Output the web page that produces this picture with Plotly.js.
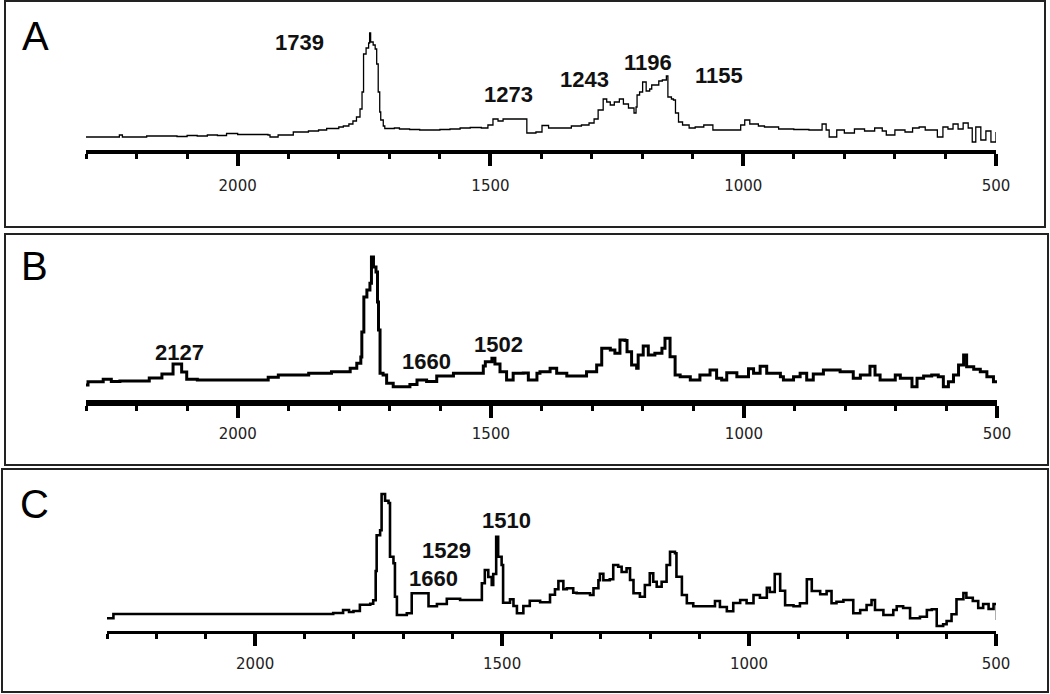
<!DOCTYPE html>
<html><head><meta charset="utf-8">
<script src="https://cdn.plot.ly/plotly-3.0.1.min.js"></script>
<style>html,body{margin:0;padding:0;background:#fff}#chart{width:1050px;height:694px}</style>
</head><body><div id="chart"></div>
<script>
// Wavenumber (cm-1) and relative intensity (arbitrary units)
const wnA = [2300,2240,2234,2228,2180,2150,2120,2100,2080,2060,2040,2022,2000,1960,1940,1936,1920,1890,1860,1840,1824,1800,1791,1780,1772,1765,1758,1754,1751,1746,1741,1739,1737,1732,1728,1725,1722,1719,1717,1712,1709,1690,1680,1660,1640,1600,1580,1560,1540,1518,1505,1495,1485,1475,1430,1428,1410,1398,1385,1360,1340,1320,1305,1295,1287,1277,1270,1263,1255,1245,1237,1227,1216,1212,1210,1205,1199,1195,1192,1185,1181,1167,1160,1152,1149,1142,1138,1134,1128,1120,1107,1095,1078,1060,1040,1014,1005,997,987,970,958,930,900,870,850,844,836,830,815,800,780,760,740,725,717,700,680,665,652,640,625,616,605,595,585,575,565,555,547,540,530,520,510,500];
const intA = [15,15,17,15,16,16,15.5,16.5,16,17,16.5,18.5,17.5,17.5,17,15,17,20,21,22,23.5,25,26,28,31,35,43,60,98,104,109,119,110,107,103,88,60,40,32,26,23.5,24,23,22.5,22,22.5,23,24,24.5,24,27,33,31,33,33,19,20,26.5,24,24,26,27,29,33,42,53,50,47,50,53,48,44,39,45,57,60,70,70,61,63,67,71,72,76,55,53,52,39,30,27,24,25,27,22,22,22,27,32,28,26,25,23,22.5,22,22,28,22,15,22,19,23,21,24,21,17,22,20,24,25,22,22,15,25,23,28,23,29,24,10,25,12,21,10,20];

const wnB = [2300,2296,2270,2266,2253,2250,2233,2177,2175,2154,2150,2134,2128,2118,2111,2101,2080,1946,1940,1923,1920,1864,1860,1818,1815,1785,1778,1765,1757,1755,1751,1745,1739,1736,1732,1727,1724,1722,1719,1713,1706,1693,1673,1660,1646,1627,1607,1574,1521,1515,1511,1498,1492,1482,1469,1456,1436,1426,1409,1403,1383,1370,1350,1324,1311,1291,1281,1264,1255,1245,1235,1231,1222,1212,1209,1199,1189,1176,1162,1156,1146,1136,1126,1106,1087,1067,1054,1044,1034,1014,991,981,968,955,928,922,902,889,876,863,843,810,784,770,751,741,731,711,701,691,668,658,645,629,616,606,596,586,576,566,560,546,533,520,507,497];
const intB = [17,20.3,20.3,22.7,22.7,20.5,21,21,24,24,28,28,38,38,30,22.7,22,22,24.7,24.7,27,27,28.7,28.7,30.3,30.3,33.7,38.7,45,70,105,112,118.7,145,135,130,100,72,28.7,27,18.7,15.3,15.3,17.5,22,20.5,26,28.7,28.7,36,40.3,43.7,38,30.3,22,28.7,29,22,28.7,30.3,33.7,28.7,26,26,30.3,37,53.7,52,48.7,62,61.5,50.3,37,33.7,47,56,47,48.7,53.7,63.7,45.3,27,25.3,22,27,32,23.7,22,29.3,25.3,33.3,28.7,35.7,28.7,25.3,22,25.3,28.7,22,28,32,30.3,23.7,27,35.7,27,22,22,27,23.7,15.3,23.7,26,27,25.3,15.3,20.3,27,37,47,35.3,32.7,30.3,25.3,20.3,18.7];

const wnC = [2300,2287,1852,1842,1822,1810,1801,1788,1767,1761,1756,1754,1747,1744,1737,1730,1727,1720,1717,1713,1693,1683,1653,1649,1632,1612,1585,1548,1541,1535,1528,1521,1518,1512,1508,1501,1498,1484,1477,1470,1460,1457,1444,1423,1403,1393,1386,1376,1369,1356,1349,1322,1315,1305,1302,1295,1282,1275,1265,1258,1248,1241,1234,1221,1211,1201,1194,1187,1177,1167,1160,1150,1147,1136,1126,1113,1086,1069,1059,1045,1032,1018,1005,991,978,964,958,948,937,927,910,897,883,873,856,843,833,823,809,789,775,762,752,745,728,708,701,688,674,654,640,630,620,617,607,600,590,580,566,560,547,536,526,515,505,498];
const intC = [12.7,17,17,18,21,19,20,26.3,27.3,30.7,60,95.7,100.7,137,130.3,128,74.3,67.7,34.3,16,17.7,37.7,37.7,24.7,27,32.3,31,31,47.7,61,54,46,57,94.3,74.3,66,28.3,31.7,25,17.7,17.7,25,30.3,28.7,36.3,41.7,50,41.7,42.7,38.3,37.7,36,42.7,50.7,57.3,50.7,51.7,66,64.3,59,62.7,51,37.7,34.3,46,57.7,49.3,44.3,49.3,66,79.3,77.7,54.3,36,27.7,24.7,24.7,30,24,19.7,28,31,27.7,36,33.3,43.3,39,57,40.3,25.7,24.7,27.7,51.7,40,36.7,40,27.7,29.3,31,17.7,21,26,31,21,16,21,24.7,23,12.7,14.3,21,21.7,5,5,6.7,10,16.7,31.7,38,33.3,30,23,27,22,27,11];

const panelLetters = ['A','B','C'];
const peakLabelsA = ['1739','1273','1243','1196','1155'];
const peakLabelsB = ['2127','1660','1502'];
const peakLabelsC = ['1660','1529','1510'];

const W = 1050, H = 694;
const px = x => x / W;
const py = y => 1 - y / H;

function xax(x0, x1, lw, anchor, standoff) {
  return {
    domain: [px(x0), px(x1)], range: [2300, 500], anchor: anchor,
    showline: true, linecolor: '#000', linewidth: lw,
    ticks: 'outside', tick0: 500, dtick: 500, ticklen: 12, tickwidth: 4, tickcolor: '#000',
    minor: {ticks: 'outside', tick0: 500, dtick: 100, ticklen: 5, tickwidth: 3, tickcolor: '#000', showgrid: false},
    showgrid: false, zeroline: false,
    tickfont: {family: 'DejaVu Sans', size: 15, color: '#222'},
    ticklabelstandoff: standoff, fixedrange: true
  };
}
function yax(b, t, r0, r1) {
  return {domain: [py(b), py(t)], range: [r0, r1], visible: false, fixedrange: true};
}

const traces = [
  {x: wnA, y: intA, xaxis: 'x', yaxis: 'y', type: 'scatter', mode: 'lines', line: {color: '#000', width: 1.3, shape: 'hv'}},
  {x: wnB, y: intB, xaxis: 'x2', yaxis: 'y2', type: 'scatter', mode: 'lines', line: {color: '#000', width: 3, shape: 'hv'}},
  {x: wnC, y: intC, xaxis: 'x3', yaxis: 'y3', type: 'scatter', mode: 'lines', line: {color: '#000', width: 2.6, shape: 'hv'}}
];

const boxes = [[5,1045,1,227],[5,1048,234,465],[2,1048,469,692]].map(b => ({
  type: 'rect', xref: 'paper', yref: 'paper', x0: px(b[0]), x1: px(b[1]), y0: py(b[3]), y1: py(b[2]),
  line: {color: '#222', width: 2}, fillcolor: 'rgba(0,0,0,0)'
}));

const letterPos = [[20,36],[19,266],[18,504]];
const annotations = [];
panelLetters.forEach((t, i) => annotations.push({
  text: t, xref: 'paper', yref: 'paper', x: px(letterPos[i][0]), y: py(letterPos[i][1]),
  xanchor: 'left', yanchor: 'middle', showarrow: false,
  font: {family: 'Liberation Sans, Arial', size: 40, color: '#000'}
}));
const peakPos = [
  [peakLabelsA, [[299,43],[508,95],[584,79],[648,62],[719,75.5]]],
  [peakLabelsB, [[179,352],[426,361],[498,345]]],
  [peakLabelsC, [[433,578],[446,550],[506,520]]]
];
peakPos.forEach(([labels, pos]) => labels.forEach((t, i) => annotations.push({
  text: t, xref: 'paper', yref: 'paper', x: px(pos[i][0]), y: py(pos[i][1]),
  xanchor: 'center', yanchor: 'middle', showarrow: false,
  font: {family: 'Liberation Sans, Arial', size: 22, color: '#111', weight: 'bold'}
})));

const layout = {
  width: W, height: H, margin: {l: 0, r: 0, t: 0, b: 0, pad: 0},
  paper_bgcolor: '#fff', plot_bgcolor: 'rgba(0,0,0,0)', showlegend: false,
  xaxis: xax(86, 996, 4, 'y', 7),
  yaxis: yax(150, 20, 2, 132),
  xaxis2: xax(86, 997, 6, 'y2', 3),
  yaxis2: yax(399.5, 240, 2.5, 162),
  xaxis3: xax(107, 996, 3, 'y3', 5),
  yaxis3: yax(630.5, 475, 0.5, 156),
  shapes: boxes, annotations: annotations
};
Plotly.newPlot('chart', traces, layout, {staticPlot: true, displayModeBar: false});
</script>
</body></html>
